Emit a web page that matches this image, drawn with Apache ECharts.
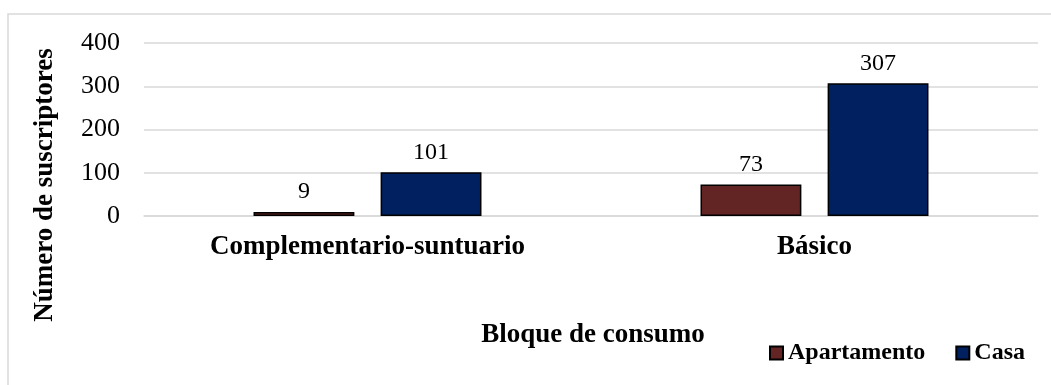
<!DOCTYPE html>
<html>
<head>
<meta charset="utf-8">
<script src="https://cdn.jsdelivr.net/npm/echarts@6/dist/echarts.min.js"></script>
<style>
  html, body { margin: 0; padding: 0; background: #fff; }
  #chart { width: 1051px; height: 385px; }
</style>
</head>
<body>
<div id="chart"></div>
<script>
// Subscribers per consumption block, split by dwelling type
const categories = ['Complementario-suntuario', 'Básico'];
const apartamento = [9, 73];
const casa = [101, 307];
const yTicks = [0, 100, 200, 300, 400];

const serif = '"Liberation Serif", "Times New Roman", serif';

const chart = echarts.init(document.getElementById('chart'));

const valueLabel = {
  show: true,
  position: 'top',
  distance: 8,
  fontFamily: serif,
  fontSize: 24,
  color: '#000'
};

chart.setOption({
  animation: false,
  backgroundColor: '#fff',
  grid: { left: 144, right: 13, top: 43, bottom: 169 },
  legend: {
    data: ['Apartamento', 'Casa'],
    left: 764,
    top: 336,
    icon: 'rect',
    itemWidth: 13,
    itemHeight: 13,
    itemGap: 30,
    textStyle: { fontFamily: serif, fontSize: 24, fontWeight: 'bold', color: '#000' }
  },
  xAxis: {
    type: 'category',
    data: categories,
    axisLine: { show: true, lineStyle: { color: '#d9d9d9', width: 1.5 } },
    axisTick: { show: false },
    axisLabel: { margin: 18, fontFamily: serif, fontSize: 27, fontWeight: 'bold', color: '#000' }
  },
  yAxis: {
    type: 'value',
    min: yTicks[0],
    max: yTicks[yTicks.length - 1],
    interval: 100,
    axisLine: { show: false },
    axisTick: { show: false },
    splitLine: { lineStyle: { color: '#d9d9d9', width: 1.5 } },
    axisLabel: { margin: 24, fontFamily: serif, fontSize: 26, color: '#000' }
  },
  graphic: [
    {
      type: 'rect',
      shape: { x: 8, y: 14, width: 1200, height: 500 },
      style: { fill: 'none', stroke: '#d9d9d9', lineWidth: 1.5 },
      silent: true
    },
    {
      type: 'text',
      x: 45,
      y: 185,
      rotation: Math.PI / 2,
      style: {
        text: 'Número de suscriptores',
        fontFamily: serif,
        fontSize: 27,
        fontWeight: 'bold',
        fill: '#000',
        align: 'center',
        verticalAlign: 'middle'
      }
    },
    {
      type: 'text',
      x: 593,
      y: 335,
      style: {
        text: 'Bloque de consumo',
        fontFamily: serif,
        fontSize: 27,
        fontWeight: 'bold',
        fill: '#000',
        align: 'center',
        verticalAlign: 'middle'
      }
    }
  ],
  series: [
    {
      name: 'Apartamento',
      type: 'bar',
      data: apartamento,
      barGap: '26%',
      barCategoryGap: '49%',
      itemStyle: { color: '#632523', borderColor: '#000', borderWidth: 1.5 },
      label: valueLabel
    },
    {
      name: 'Casa',
      type: 'bar',
      data: casa,
      itemStyle: { color: '#002060', borderColor: '#000', borderWidth: 1.5 },
      label: valueLabel
    }
  ]
});
</script>
</body>
</html>
